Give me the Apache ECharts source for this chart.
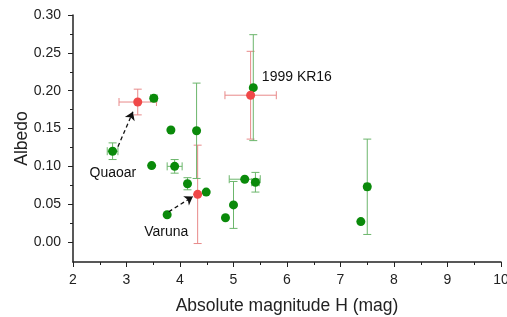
<html lang="en">
  <head>
    <meta charset="UTF-8" />
    <title>Albedo vs H</title>
  </head>
  <body style="margin: 0">
    <div id="main" style="width: 507px; height: 317px"></div>

    <script src="https://cdn.jsdelivr.net/npm/echarts@6/dist/echarts.min.js"></script>
    <script>
      // green points: H, albedo, errors
      const greenH = [2.74, 3.51, 3.83, 4.31, 5.37, 3.47, 3.9, 4.14, 4.49, 3.76, 4.85, 5.0, 5.21, 5.41, 7.5, 7.38]
      const greenA = [0.12, 0.19, 0.148, 0.147, 0.204, 0.101, 0.1, 0.077, 0.066, 0.036, 0.032, 0.049, 0.083, 0.079, 0.073, 0.027]
      const greenHErr = [0.1, 0.06, 0, 0, 0, 0, 0.14, 0, 0, 0, 0, 0, 0.29, 0.07, 0.05, 0]
      const greenAErr = [0.011, 0.002, 0, 0.063, 0.07, 0, 0.009, 0.008, 0, 0, 0, 0.031, 0, 0.013, 0.063, 0]

      // red points (Quaoar, 1999 KR16, Varuna)
      const redH = [3.21, 5.32, 4.33]
      const redA = [0.185, 0.194, 0.063]
      const redHErr = [0.35, 0.48, 0]
      const redAErr = [0.017, 0.058, 0.065]

      const yTicks = [0, 0.05, 0.1, 0.15, 0.2, 0.25, 0.3]
      const yMinorTicks = [0.025, 0.075, 0.125, 0.175, 0.225, 0.275]

      // annotations [text, H, albedo]
      const notes = [
        ['1999 KR16', 5.53, 0.2185],
        ['Quaoar', 2.31, 0.0908],
        ['Varuna', 3.33, 0.0128]
      ]
      // arrows [fromH, fromA, toH, toA]
      const arrows = [
        [2.84, 0.126, 3.12, 0.172],
        [3.79, 0.04, 4.24, 0.06]
      ]

      const font = 'Liberation Sans, Arial, sans-serif'

      function errRows(h, a, dh, da) {
        return h.map((v, i) => [v, a[i], dh[i], da[i]])
      }

      function errSeries(rows, color) {
        return {
          type: 'custom',
          data: rows,
          encode: { x: 0, y: 1 },
          silent: true,
          z: 1,
          renderItem(params, api) {
            const h = api.value(0), a = api.value(1), dh = api.value(2), da = api.value(3)
            const kids = []
            const style = { stroke: color, lineWidth: 1 }
            const cap = 4
            if (da > 0) {
              const p1 = api.coord([h, a - da]), p2 = api.coord([h, a + da])
              kids.push({ type: 'line', shape: { x1: p1[0], y1: p1[1], x2: p2[0], y2: p2[1] }, style })
              kids.push({ type: 'line', shape: { x1: p1[0] - cap, y1: p1[1], x2: p1[0] + cap, y2: p1[1] }, style })
              kids.push({ type: 'line', shape: { x1: p2[0] - cap, y1: p2[1], x2: p2[0] + cap, y2: p2[1] }, style })
            }
            if (dh > 0) {
              const p1 = api.coord([h - dh, a]), p2 = api.coord([h + dh, a])
              kids.push({ type: 'line', shape: { x1: p1[0], y1: p1[1], x2: p2[0], y2: p2[1] }, style })
              kids.push({ type: 'line', shape: { x1: p1[0], y1: p1[1] - cap, x2: p1[0], y2: p1[1] + cap }, style })
              kids.push({ type: 'line', shape: { x1: p2[0], y1: p2[1] - cap, x2: p2[0], y2: p2[1] + cap }, style })
            }
            return { type: 'group', children: kids }
          }
        }
      }

      let mCharts = echarts.init(document.querySelector('#main'))
      let option = {
        animation: false,
        grid: { left: 73, right: 6, top: 15, bottom: 55, outerBoundsMode: 'none' },
        xAxis: {
          type: 'value',
          min: 2,
          max: 10,
          interval: 1,
          name: 'Absolute magnitude H (mag)',
          nameLocation: 'middle',
          nameGap: 35,
          nameMoveOverlap: false,
          nameTextStyle: { fontFamily: font, fontSize: 17.5, color: '#222' },
          axisLine: { onZero: false, lineStyle: { color: '#222', width: 1.5 } },
          axisTick: { length: 5, lineStyle: { color: '#222' } },
          minorTick: { show: true, splitNumber: 2, length: 3, lineStyle: { color: '#222' } },
          axisLabel: { fontFamily: font, fontSize: 14, color: '#222', margin: 11 },
          splitLine: { show: false }
        },
        yAxis: [
          {
            type: 'value',
            min: -0.0264,
            max: 0.3,
            name: 'Albedo',
            nameLocation: 'middle',
            nameGap: 42,
            nameMoveOverlap: false,
            nameTextStyle: { fontFamily: font, fontSize: 17.5, color: '#222' },
            axisLine: { show: true, onZero: false, lineStyle: { color: '#222', width: 1.5 } },
            axisTick: { show: true, length: 5, customValues: yTicks, lineStyle: { color: '#222' } },
            axisLabel: {
              fontFamily: font,
              fontSize: 14,
              color: '#222',
              margin: 12,
              customValues: yTicks,
              formatter: (v) => v.toFixed(2)
            },
            splitLine: { show: false }
          },
          {
            type: 'value',
            position: 'left',
            min: -0.0264,
            max: 0.3,
            axisLine: { show: false },
            axisTick: { show: true, length: 3, customValues: yMinorTicks, lineStyle: { color: '#222' } },
            axisLabel: { show: false },
            splitLine: { show: false }
          }
        ],
        series: [
          errSeries(errRows(redH, redA, redHErr, redAErr), '#e88a8a'),
          errSeries(errRows(greenH, greenA, greenHErr, greenAErr), '#6cb66c'),
          {
            type: 'scatter',
            data: greenH.map((h, i) => [h, greenA[i]]),
            symbolSize: 9,
            itemStyle: { color: '#0a8a0a', opacity: 1 },
            z: 3
          },
          {
            type: 'scatter',
            data: redH.map((h, i) => [h, redA[i]]),
            symbolSize: 9,
            itemStyle: { color: '#f04848', opacity: 1 },
            z: 3,
            markPoint: {
              symbol: 'circle',
              symbolSize: 0,
              label: {
                show: true,
                position: 'right',
                distance: 0,
                fontFamily: font,
                fontSize: 14,
                color: '#111',
                formatter: (p) => p.name
              },
              data: notes.map(([t, h, a]) => ({ name: t, coord: [h, a] }))
            },
            markLine: {
              silent: true,
              symbol: ['none', 'arrow'],
              symbolSize: 8,
              label: { show: false },
              lineStyle: { color: '#111', type: [4, 3], width: 1.3 },
              data: arrows.map(([h1, a1, h2, a2]) => [{ coord: [h1, a1] }, { coord: [h2, a2] }])
            }
          }
        ]
      }
      mCharts.setOption(option)
    </script>
  </body>
</html>
